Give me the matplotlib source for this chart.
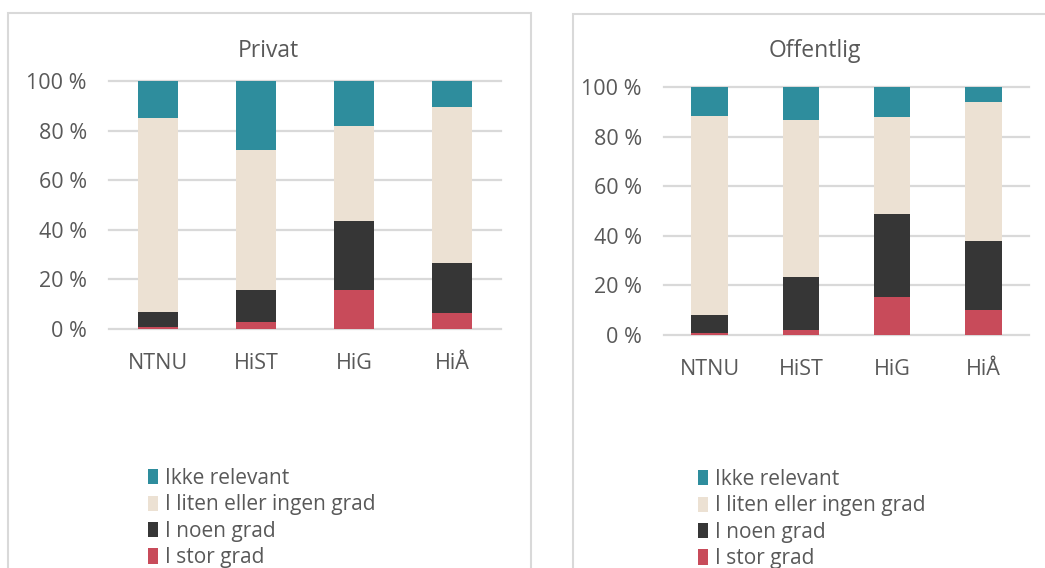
import matplotlib.pyplot as plt
from matplotlib.patches import Patch, Rectangle

plt.rcParams['font.family'] = ['Open Sans', 'DejaVu Sans']

schools = ["NTNU", "HiST", "HiG", "HiÅ"]
series = ["I stor grad", "I noen grad", "I liten eller ingen grad", "Ikke relevant"]
colors = ["#c84b5a", "#363636", "#ece1d3", "#2e8d9d"]

privat_stor = [0.8, 2.7, 15.6, 6.3]
privat_noen = [5.9, 12.9, 28.1, 20.4]
privat_liten = [78.5, 56.4, 38.3, 63.0]
privat_ikke = [14.8, 28.0, 18.0, 10.3]

offentlig_stor = [0.8, 2.2, 15.5, 10.0]
offentlig_noen = [7.2, 21.0, 33.2, 27.9]
offentlig_liten = [80.4, 63.5, 39.2, 55.9]
offentlig_ikke = [11.6, 13.3, 12.1, 6.2]

text_color = "#595959"
grid_color = "#d9d9d9"

fig = plt.figure(figsize=(10.45, 5.68), dpi=100)


def draw_panel(rect, title, title_pos, data, legend_pos, xpad):
    ax = fig.add_axes(rect)
    x = range(len(schools))
    bottom = [0.0] * len(schools)
    for vals, col in zip(data, colors):
        ax.bar(x, vals, 0.4, bottom=bottom, color=col, zorder=3)
        bottom = [b + v for b, v in zip(bottom, vals)]
    ax.set_xlim(-0.5, 3.5)
    ax.set_ylim(0, 100)
    ax.set_yticks(range(0, 101, 20))
    ax.set_yticklabels([f"{v} %" for v in range(0, 101, 20)])
    ax.set_xticks(list(x))
    ax.set_xticklabels(schools)
    ax.yaxis.grid(True, color=grid_color, linewidth=1.6, zorder=0)
    for s in ax.spines.values():
        s.set_visible(False)
    ax.tick_params(axis="both", length=0, colors=text_color, labelsize=15.5)
    ax.tick_params(axis="y", pad=16)
    ax.tick_params(axis="x", pad=xpad)
    for gl in ax.get_ygridlines():
        gl.set_clip_on(False)
    fig.text(title_pos[0], title_pos[1], title, ha="center", va="center",
             fontsize=16.5, color=text_color)
    handles = [Patch(facecolor=c) for c in colors[::-1]]
    fig.legend(handles, series[::-1], loc="upper left", bbox_to_anchor=legend_pos,
               frameon=False, fontsize=15, labelcolor=text_color,
               handlelength=0.5, handleheight=0.75, handletextpad=0.3,
               labelspacing=0.26, borderpad=0, borderaxespad=0)
    return ax


draw_panel([109 / 1045, 1 - 329 / 568, 392 / 1045, 248 / 568], "Privat",
           (268 / 1045, 1 - 51 / 568),
           [privat_stor, privat_noen, privat_liten, privat_ikke],
           (148 / 1045, 1 - 468 / 568), 17)
draw_panel([664 / 1045, 1 - 335 / 568, 365 / 1045, 248 / 568], "Offentlig",
           (815 / 1045, 1 - 51 / 568),
           [offentlig_stor, offentlig_noen, offentlig_liten, offentlig_ikke],
           (698 / 1045, 1 - 469 / 568), 17)

# panel frames
fig.add_artist(Rectangle((7.5 / 1045, -0.1), (531 - 7.5) / 1045, 1.1 - 13 / 568,
                         transform=fig.transFigure, fill=False,
                         edgecolor=grid_color, linewidth=1.5))
fig.add_artist(Rectangle((573 / 1045, -0.1), 0.5, 1.1 - 14 / 568,
                         transform=fig.transFigure, fill=False,
                         edgecolor=grid_color, linewidth=1.5))

fig.savefig("out.png", dpi=100)
